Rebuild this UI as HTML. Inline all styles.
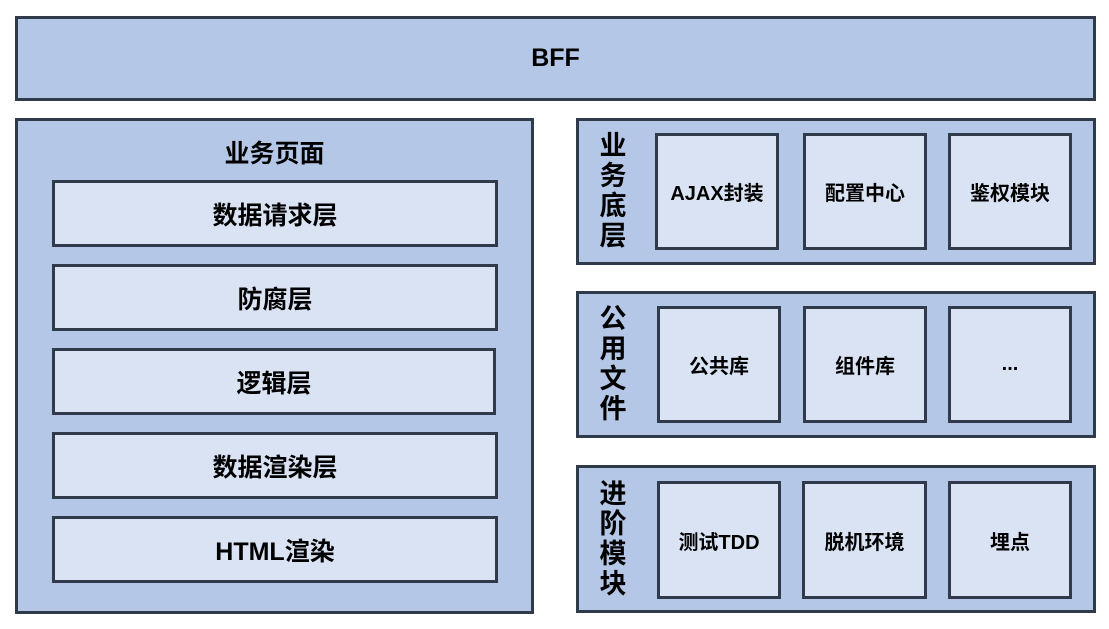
<!DOCTYPE html>
<html><head><meta charset="utf-8"><style>
body{margin:0;width:1109px;height:629px;background:#fff;position:relative;font-family:"Liberation Sans","Noto Sans CJK SC",sans-serif;font-weight:bold;color:#000}
.b{position:absolute;box-sizing:border-box;border:3px solid #2f3a4a;display:flex;align-items:center;justify-content:center}
.o{background:#b4c7e7}
.i{background:#dae3f3}
.v{position:absolute;width:34px;text-align:center;font-size:27px;line-height:30px}
</style></head><body>
<div class="b o" style="left:15px;top:16px;width:1081px;height:85px;font-size:25px">BFF</div>
<div class="b o" style="left:15px;top:118px;width:519px;height:496px;align-items:flex-start;padding-top:13px;font-size:25px">业务页面</div>
<div class="b i" style="left:52px;top:180px;width:446px;height:67px;font-size:25px">数据请求层</div>
<div class="b i" style="left:52px;top:264px;width:446px;height:67px;font-size:25px">防腐层</div>
<div class="b i" style="left:52px;top:348px;width:444px;height:67px;font-size:25px">逻辑层</div>
<div class="b i" style="left:52px;top:432px;width:446px;height:67px;font-size:25px">数据渲染层</div>
<div class="b i" style="left:52px;top:516px;width:446px;height:67px;font-size:25px">HTML渲染</div>

<div class="b o" style="left:576px;top:118px;width:520px;height:147px"></div>
<div class="v" style="left:596px;top:131px">业<br>务<br>底<br>层</div>
<div class="b i" style="left:655px;top:133px;width:124px;height:117px;font-size:20px">AJAX封装</div>
<div class="b i" style="left:803px;top:133px;width:124px;height:117px;font-size:20px">配置中心</div>
<div class="b i" style="left:948px;top:133px;width:124px;height:117px;font-size:20px">鉴权模块</div>

<div class="b o" style="left:576px;top:291px;width:520px;height:147px"></div>
<div class="v" style="left:596px;top:304px">公<br>用<br>文<br>件</div>
<div class="b i" style="left:657px;top:306px;width:124px;height:117px;font-size:20px">公共库</div>
<div class="b i" style="left:803px;top:306px;width:124px;height:117px;font-size:20px">组件库</div>
<div class="b i" style="left:948px;top:306px;width:124px;height:117px;font-size:20px">...</div>

<div class="b o" style="left:576px;top:465px;width:520px;height:148px"></div>
<div class="v" style="left:596px;top:479px">进<br>阶<br>模<br>块</div>
<div class="b i" style="left:657px;top:481px;width:124px;height:118px;font-size:20px">测试TDD</div>
<div class="b i" style="left:802px;top:481px;width:125px;height:118px;font-size:20px">脱机环境</div>
<div class="b i" style="left:948px;top:481px;width:124px;height:118px;font-size:20px">埋点</div>
</body></html>
